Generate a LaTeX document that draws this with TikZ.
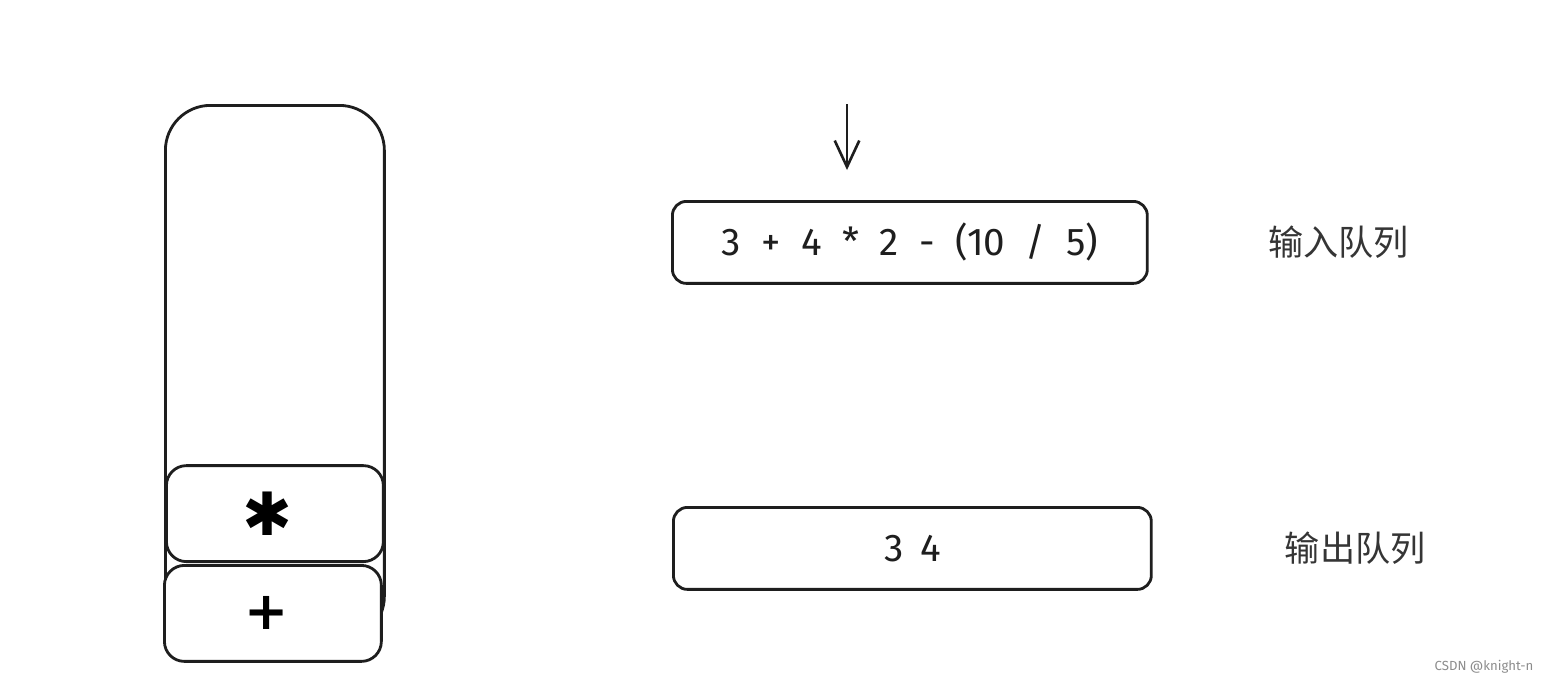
\documentclass[tikz,border=0pt]{standalone}
\usepackage{fontspec}
\setmainfont{Fira Sans}
\newfontfamily\cjk{Noto Sans CJK SC}
\newfontfamily\symb{DejaVu Sans}
\usetikzlibrary{arrows.meta, positioning}
\definecolor{inkgray}{HTML}{1E1E1E}

\begin{document}
\begin{tikzpicture}[
    x=0.02cm, y=-0.02cm,
    >={Straight Barb[length=15pt, width=14pt, line width=1.5pt]},
    line width=1.6pt,
    draw=inkgray,
    box/.style={draw=inkgray, rectangle, rounded corners=0.28cm, fill=white},
    cell/.style={box, rounded corners=0.4cm, minimum width=4.34cm, minimum height=1.92cm, inner sep=0pt},
    expr/.style={font=\fontsize{22}{26}\selectfont, text=inkgray},
    lbl/.style={font=\cjk\fontsize{20}{24}\selectfont, text=inkgray!90}
]
\useasboundingbox (0,0) rectangle (1548,684);

% stack body
\node[draw=inkgray, rectangle, rounded corners=0.9cm, minimum width=4.38cm, minimum height=10.72cm, anchor=north west] (stack) at (164,104) {};

% stack cells, bottom to top
\node[cell, anchor=north west] (opadd) at (163,564) {\symb\bfseries\fontsize{30}{30}\selectfont\kern-0.24cm +};
\node[cell, anchor=south west] (opmul) at (165,563) {\symb\fontsize{34}{34}\selectfont\kern-0.28cm ✱};

% input queue
\node[box, minimum width=9.5cm, minimum height=1.64cm, anchor=north west, expr] (inq) at (671,200) {3 \ + \ 4 \ * \ 2 \ - \ (10 \ / \ 5)};
\node[lbl, right=2.25cm of inq] (inlbl) {输入队列};

% output queue
\node[box, minimum width=9.56cm, minimum height=1.64cm, anchor=north west, expr] (outq) at (672,506) {3 \,4};
\node[lbl, right=2.5cm of outq] (outlbl) {输出队列};

% read pointer
\coordinate (arrowtop) at (847,104);
\draw[->, line width=1.5pt, shorten >=0.6cm] (arrowtop) -- (arrowtop |- inq.north);

% watermark
\node[font=\fontsize{7.5}{9}\selectfont, text=black!45] (mark) at (1484,667) {CSDN @knight-n};

\end{tikzpicture}
\end{document}
